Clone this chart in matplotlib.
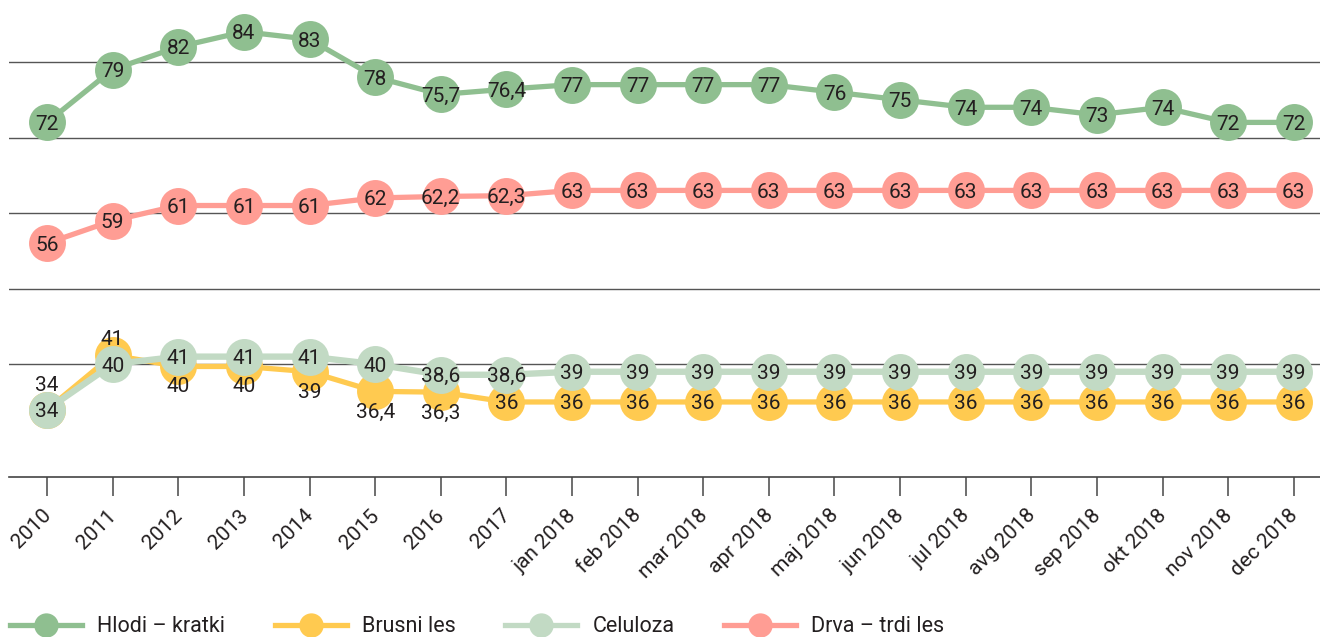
import matplotlib
matplotlib.use("Agg")
import matplotlib.pyplot as plt
import matplotlib.transforms as mtransforms
from matplotlib.lines import Line2D

plt.rcParams['font.family'] = ['Roboto', 'DejaVu Sans']

periods = ["2010", "2011", "2012", "2013", "2014", "2015", "2016", "2017",
           "jan 2018", "feb 2018", "mar 2018", "apr 2018", "maj 2018", "jun 2018",
           "jul 2018", "avg 2018", "sep 2018", "okt 2018", "nov 2018", "dec 2018"]

hlodi = [72, 79, 82, 84, 83, 78, 75.7, 76.4, 77, 77, 77, 77, 76, 75, 74, 74, 73, 74, 72, 72]
drva = [56, 59, 61, 61, 61, 62, 62.2, 62.3, 63, 63, 63, 63, 63, 63, 63, 63, 63, 63, 63, 63]
celuloza = [34, 40, 41, 41, 41, 40, 38.6, 38.6, 39, 39, 39, 39, 39, 39, 39, 39, 39, 39, 39, 39]
# brusni les: points as drawn in the picture, labels as printed
brusni = [34, 41.2, 39.7, 39.7, 39, 36.4, 36.3, 35, 35, 35, 35, 35, 35, 35, 35, 35, 35, 35, 35, 35]
brusni_labels = ["34", "41", "40", "40", "39", "36,4", "36,3"] + ["36"] * 13
brusni_offset = [26, 18, -18, -18, -19, -19, -19] + [0] * 13   # px, label shift

C_HLODI = "#8fbf90"
C_BRUSNI = "#ffca50"
C_CEL = "#c2dac4"
C_DRVA = "#ff9d94"
TXT = "#231f20"

W, H = 1320, 637
fig = plt.figure(figsize=(W / 100, H / 100), dpi=100)
ax = fig.add_axes([9 / W, (H - 477) / H, (W - 9) / W, 477 / H])

x = list(range(len(periods)))
ms = 26.6
lw = 3.8
fs = 15

def fmt(v):
    s = "%g" % v
    return s.replace(".", ",")

ax.plot(x, hlodi, color=C_HLODI, lw=lw, marker="o", ms=ms, mec="none", zorder=3)
ax.plot(x, drva, color=C_DRVA, lw=lw, marker="o", ms=ms, mec="none", zorder=3)
ax.plot(x, brusni, color=C_BRUSNI, lw=lw, marker="o", ms=ms, mec="none", zorder=3)
ax.plot(x, celuloza, color=C_CEL, lw=lw + 0.8, marker="o", ms=ms, mec="none", zorder=4)

for serie in (hlodi, drva, celuloza):
    for i, v in enumerate(serie):
        ax.text(i, v, fmt(v), ha="center", va="center_baseline", fontsize=fs,
                color=TXT, zorder=6)

for i, v in enumerate(brusni):
    ax.annotate(brusni_labels[i], (i, v), xytext=(0, brusni_offset[i] * 0.72),
                textcoords="offset points", ha="center", va="center_baseline",
                fontsize=fs, color=TXT, zorder=6 if brusni_offset[i] else 5)

ax.set_xlim(-0.58, 19.4)
ax.set_ylim(25.07, 88.2)
ax.set_yticks([40, 50, 60, 70, 80])
ax.yaxis.grid(True, color="#555555", lw=1.0)
ax.set_axisbelow(True)
ax.tick_params(axis="y", left=False, labelleft=False)
for s in ("top", "right", "left"):
    ax.spines[s].set_visible(False)
ax.spines["bottom"].set_color("#444444")
ax.spines["bottom"].set_linewidth(1.2)

ax.set_xticks(x)
ax.set_xticklabels(periods, rotation=45, ha="right", va="center",
                   rotation_mode="anchor", fontsize=fs, color=TXT)
ax.tick_params(axis="x", length=14, width=1.2, color="#555555", pad=4)
shift = mtransforms.ScaledTranslation(1 / 100, -10.5 / 100, fig.dpi_scale_trans)
for lab in ax.get_xticklabels():
    lab.set_transform(lab.get_transform() + shift)

handles = [Line2D([], [], color=c, lw=lw, marker="o", ms=17.5, mec="none")
           for c in (C_HLODI, C_BRUSNI, C_CEL, C_DRVA)]
names = ["Hlodi – kratki", "Brusni les", "Celuloza", "Drva – trdi les"]
fig.legend(handles, names, loc="center left", bbox_to_anchor=(10 / W, 10 / H),
           ncol=4, frameon=False, fontsize=15.5, handlelength=3.35,
           handletextpad=0.7, columnspacing=2.3, labelcolor=TXT,
           borderpad=0, borderaxespad=0)

fig.savefig("out.png", dpi=100)
